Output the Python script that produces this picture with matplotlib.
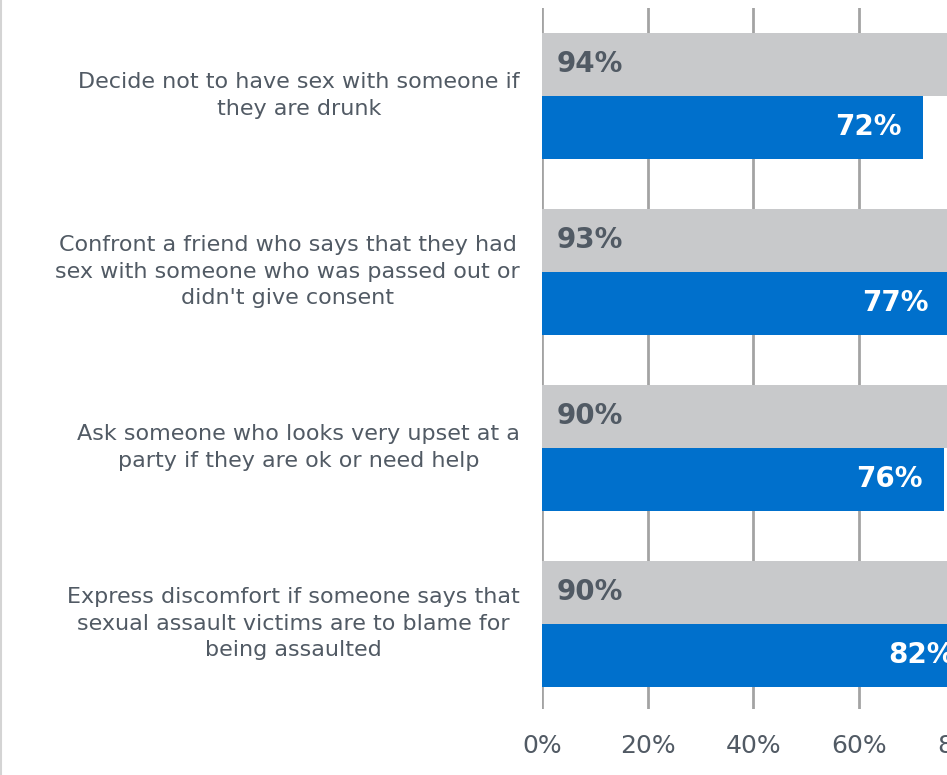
import numpy as np
import matplotlib
matplotlib.use("Agg")
import matplotlib.pyplot as plt
from matplotlib.lines import Line2D

plt.rcParams["font.family"] = ["DejaVu Sans"]

# chart data
categories = [
    "Decide not to have sex with someone if\nthey are drunk",
    "Confront a friend who says that they had\nsex with someone who was passed out or\ndidn't give consent",
    "Ask someone who looks very upset at a\nparty if they are ok or need help",
    "Express discomfort if someone says that\nsexual assault victims are to blame for\nbeing assaulted",
]
gray_vals = [94, 93, 90, 90]
blue_vals = [72, 77, 76, 82]
xticks = [0, 20, 40, 60, 80, 100]
xtick_labels = ["0%", "20%", "40%", "60%", "80%", "100%"]

GRAY = "#c8c9cb"
BLUE = "#0070cc"
TEXT = "#515a64"
GRID = "#a3a3a3"

W, H = 947, 775
fig = plt.figure(figsize=(W / 100, H / 100), dpi=100)

# axes placed in pixel terms; right side runs off the figure like the original
x0, px_per_pct = 542, 5.285
y_top, y_bot = 8, 709
ax = fig.add_axes([x0 / W, (H - y_bot) / H, 100 * px_per_pct / W, (y_bot - y_top) / H])

pos = np.arange(len(categories))
h = 63 / 176
ax.barh(pos - h / 2, gray_vals, height=h, color=GRAY, zorder=2)
ax.barh(pos + h / 2, blue_vals, height=h, color=BLUE, zorder=2)

for p, g, b in zip(pos, gray_vals, blue_vals):
    ax.text(2.8, p - h / 2, f"{g}%", ha="left", va="center", fontsize=20,
            fontweight="bold", color=TEXT, zorder=3)
    ax.text(b - 3.9, p + h / 2, f"{b}%", ha="right", va="center", fontsize=20,
            fontweight="bold", color="white", zorder=3)

ax.set_xlim(0, 100)
ax.set_ylim((y_bot - 95.5) / 176, (y_top - 95.5) / 176)
ax.set_xticks(xticks)
ax.set_xticklabels(xtick_labels, fontsize=18, color=TEXT)
ax.set_yticks([])
ax.tick_params(axis="x", length=0, pad=18)
ax.grid(axis="x", color=GRID, linewidth=2, zorder=0)
for s in ax.spines.values():
    s.set_visible(False)

# category labels, right edge of block at x=520px
for p, c in zip(pos, categories):
    ax.annotate(c, xy=(0, p), xycoords=("axes fraction", "data"),
                xytext=(-(x0 - 520) * 0.72, 0), textcoords="offset points",
                ha="right", va="center", multialignment="center",
                fontsize=16, color=TEXT, linespacing=1.4)

fig.add_artist(Line2D([0.5 / W, 0.5 / W], [0, 1], color="#d4d4d4", linewidth=1.5))

fig.savefig("out.png", dpi=100)
